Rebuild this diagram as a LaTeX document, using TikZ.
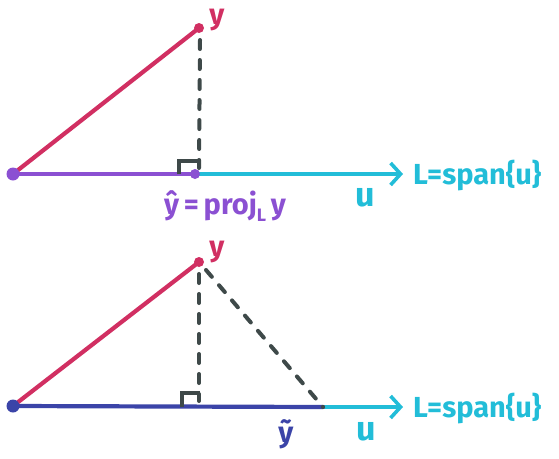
\documentclass[tikz,border=0pt]{standalone}
\usepackage{fontspec}
\setmainfont{Fira Sans}
\usetikzlibrary{arrows.meta}
\definecolor{crim}{HTML}{D12F62}
\definecolor{purp}{HTML}{8B50D2}
\definecolor{cyn}{HTML}{22BDD8}
\definecolor{dgray}{HTML}{3E4949}
\definecolor{blu}{HTML}{3B44A8}
\tikzset{
  vec/.style={line width=4.2pt, line cap=round},
  dash line/.style={line width=4pt, dgray, line cap=round, dash pattern=on 9pt off 11pt},
  rmark/.style={line width=3.4pt, dgray},
  lbl/.style={inner sep=0pt, font=\fontsize{29}{31}\selectfont\bfseries},
  big/.style={inner sep=0pt, font=\fontsize{34}{36}\selectfont\bfseries},
  arr/.style={line width=4pt, cyn, -{Straight Barb[length=10pt,width=22pt,line width=3.6pt]}},
}
\begin{document}
\begin{tikzpicture}[x=1pt,y=-1pt]
\useasboundingbox (0,0) rectangle (559,458);
% ---------- top ----------
\coordinate (O1) at (13,174);
\coordinate (Y1) at (199,28);
\coordinate (F1) at (195,174);
\coordinate (E1) at (403,174);
\coordinate (D1) at (200,40);
\coordinate (D1b) at (199,168);
\draw[arr] (F1) -- (E1);
\draw[vec, purp] (O1) -- (F1);
\draw[vec, crim] (O1) -- (Y1);
\draw[dash line] (D1) -- (D1b);
\draw[rmark] (179,174) -- (179,161) -- (199,161);
\fill[purp] (O1) circle (6.5);
\fill[crim] (Y1) circle (5);
\fill[purp] (F1) circle (5);
\node[lbl, crim] (ylab1) at (217,20) {y};
\node[lbl, purp] (yhat) at (225,206) {ŷ\,=\,proj\raisebox{-7pt}{\fontsize{18}{18}\selectfont L}\,y};
\node[big, cyn] (u1) at (365,198) {u};
\node[lbl, cyn, anchor=west] (L1) at (413,176) {L=span\{u\}};
% ---------- bottom ----------
\coordinate (O2) at (13,406);
\coordinate (Y2) at (199,262);
\coordinate (F2) at (323,407);
\coordinate (E2) at (403,407);
\coordinate (D2) at (199,274);
\coordinate (D2b) at (199,401);
\coordinate (G2) at (206,270);
\draw[arr] (F2) -- (E2);
\draw[vec, blu] (O2) -- (F2);
\draw[vec, crim] (O2) -- (Y2);
\draw[dash line] (D2) -- (D2b);
\draw[dash line] (G2) -- (F2);
\draw[rmark] (182,407) -- (182,393) -- (200,393);
\fill[blu] (O2) circle (6.5);
\fill[crim] (Y2) circle (5);
\node[lbl, crim] (ylab2) at (217,252) {y};
\node[lbl, blu] (ytil) at (286,434) {ỹ};
\node[big, cyn] (u2) at (366,432) {u};
\node[lbl, cyn, anchor=west] (L2) at (413,409) {L=span\{u\}};
\end{tikzpicture}
\end{document}
